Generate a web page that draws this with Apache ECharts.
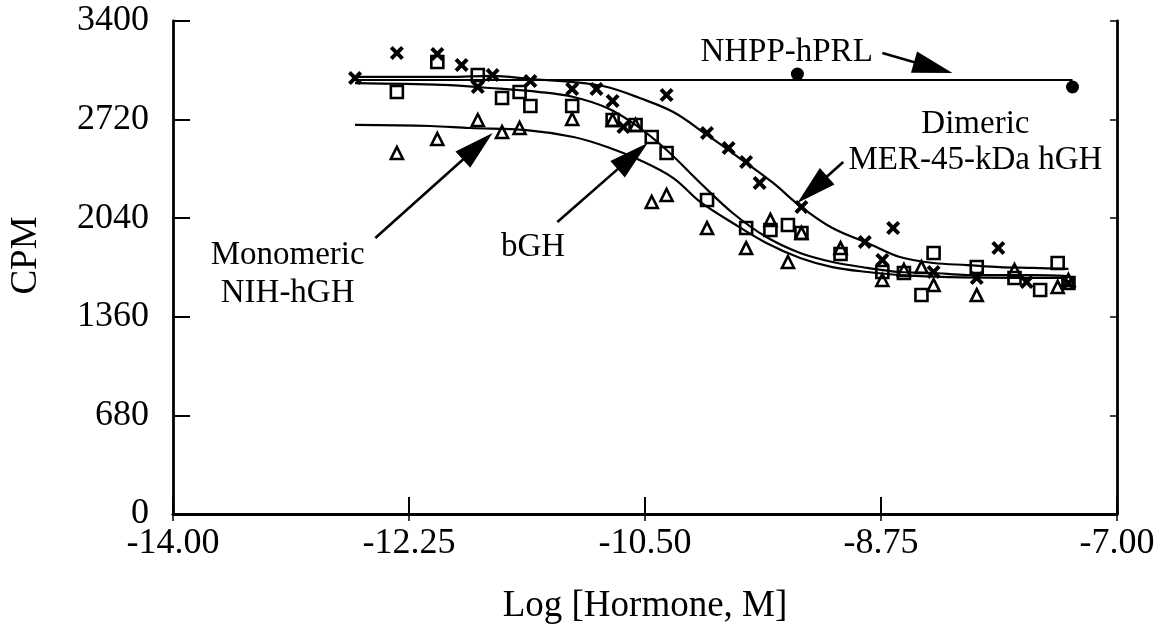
<!DOCTYPE html>
<html>
<head>
<meta charset="utf-8">
<script src="https://cdn.jsdelivr.net/npm/echarts@6.0.0/dist/echarts.min.js"></script>
</head>
<body style="margin:0;background:#fff">
<div id="container" style="width:1175px;height:633px"></div>
<script>
var FONT = '"Liberation Serif", "Times New Roman", serif';

var xTicks = [-14, -12.25, -10.5, -8.75, -7];
var yTicks = [0, 680, 1360, 2040, 2720, 3400];

// Dimeric MER-45-kDa hGH (x marks)
var dimericPts = [[-12.65,3007],[-12.34,3179],[-12.04,3172],[-11.86,3097],[-11.74,2945],[-11.63,3028],
  [-11.35,2986],[-11.04,2931],[-10.86,2931],[-10.74,2848],[-10.66,2669],[-10.34,2890],[-10.04,2628],
  [-9.88,2524],[-9.75,2428],[-9.65,2283],[-9.34,2117],[-8.87,1876],[-8.66,1972],[-8.74,1752],
  [-8.36,1669],[-8.04,1628],[-7.88,1834],[-7.67,1600],[-7.36,1593]];
var dimericCurve = [[-12.65,3014],[-11.95,3014],[-11.63,3021],[-11.35,3000],[-11.03,2979],[-10.78,2945],
  [-10.54,2869],[-10.29,2772],[-10.04,2614],[-9.80,2455],[-9.55,2283],[-9.35,2124],[-9.11,1972],
  [-8.85,1869],[-8.61,1772],[-8.36,1731],[-8.11,1717],[-7.87,1703],[-7.62,1697],[-7.36,1690]];

// bGH (squares)
var bghPts = [[-12.34,2910],[-12.04,3117],[-11.74,3028],[-11.56,2869],[-11.43,2910],[-11.35,2814],
  [-11.04,2814],[-10.74,2717],[-10.57,2683],[-10.45,2600],[-10.34,2490],[-10.04,2166],[-9.75,1972],
  [-9.57,1959],[-9.44,1993],[-9.34,1938],[-9.05,1793],[-8.74,1669],[-8.58,1662],[-8.45,1510],
  [-8.36,1800],[-8.04,1703],[-7.76,1628],[-7.57,1545],[-7.44,1731],[-7.36,1593]];
var bghCurve = [[-12.65,2972],[-12.00,2959],[-11.65,2938],[-11.28,2910],[-11.03,2876],[-10.78,2800],
  [-10.57,2683],[-10.34,2510],[-10.09,2283],[-9.85,2076],[-9.60,1910],[-9.35,1800],[-9.11,1738],
  [-8.85,1697],[-8.61,1669],[-8.36,1662],[-8.11,1648],[-7.62,1648],[-7.36,1641]];

// Monomeric NIH-hGH (triangles)
var monoPts = [[-12.34,2490],[-12.04,2586],[-11.74,2717],[-11.56,2634],[-11.43,2662],[-11.04,2724],
  [-10.74,2717],[-10.57,2683],[-10.45,2152],[-10.34,2200],[-10.04,1972],[-9.75,1834],[-9.57,2028],
  [-9.44,1738],[-9.34,1938],[-9.05,1834],[-8.74,1614],[-8.58,1683],[-8.45,1703],[-8.36,1579],
  [-8.04,1510],[-7.76,1683],[-7.44,1566],[-7.36,1614]];
var monoCurve = [[-12.65,2683],[-12.09,2676],[-11.80,2662],[-11.38,2648],[-11.03,2600],[-10.78,2531],
  [-10.54,2441],[-10.29,2317],[-10.09,2152],[-9.85,2007],[-9.60,1869],[-9.35,1766],[-9.11,1703],
  [-8.85,1669],[-8.61,1648],[-8.24,1634],[-7.37,1628]];

// NHPP-hPRL (filled dots)
var prlPts = [[-9.37,3034],[-7.33,2945]];
var prlLine = [[-12.65,2993],[-7.33,2993]];

// annotation arrows: [fromX, fromY, toX, toY]
var arrows = [[-8.74,3179,-8.22,3041],[-9.03,2428,-9.37,2145],[-12.50,1903,-11.63,2628],[-11.15,2014,-10.48,2559]];
var noteX = [-9.45, -8.05, -8.05, -13.15, -13.15, -11.33];
var noteY = [3186, 2690, 2441, 1786, 1524, 1841];
var noteText = ['NHPP-hPRL', 'Dimeric', 'MER-45-kDa hGH', 'Monomeric', 'NIH-hGH', 'bGH'];

var xMark = 'path://M0,2L2,0L5,3L8,0L10,2L7,5L10,8L8,10L5,7L2,10L0,8L3,5Z';

var dom = document.getElementById('container');
var myChart = echarts.init(dom);

function curve(name, data) {
    return {
        name: name, type: 'line', data: data, smooth: 0.35, showSymbol: false, silent: true,
        lineStyle: {color: '#000', width: 2.2}, z: 2
    };
}
function pts(name, data, symbol, size, filled) {
    return {
        name: name, type: 'scatter', data: data, symbol: symbol, symbolSize: size, silent: true, z: 3,
        itemStyle: filled ? {color: '#000', opacity: 1} :
            {color: 'rgba(255,255,255,0)', borderColor: '#000', borderWidth: 2.6, opacity: 1}
    };
}

var baseAxis = {
    axisLine: {lineStyle: {color: '#000', width: 2.8}},
    splitLine: {show: false}
};

var option = {
    animation: false,
    grid: {left: 173, right: 58, top: 21, bottom: 119},
    xAxis: [
        Object.assign({}, baseAxis, {
            type: 'value', min: xTicks[0], max: xTicks[xTicks.length - 1], interval: 1.75, position: 'bottom',
            axisTick: {inside: true, length: 17, lineStyle: {color: '#000', width: 2}},
            axisLabel: {color: '#000', fontSize: 36, fontFamily: FONT, margin: 12,
                formatter: function (v) { return v.toFixed(2); }},
            name: 'Log [Hormone, M]', nameLocation: 'middle', nameGap: 74,
            nameTextStyle: {color: '#000', fontSize: 37, fontFamily: FONT}
        }),
        Object.assign({}, baseAxis, {
            type: 'value', min: xTicks[0], max: xTicks[xTicks.length - 1], interval: 1.75, position: 'top',
            axisTick: {inside: true, length: 7, lineStyle: {color: '#000', width: 1.5}},
            axisLabel: {show: false}
        })
    ],
    yAxis: [
        Object.assign({}, baseAxis, {
            type: 'value', min: yTicks[0], max: yTicks[yTicks.length - 1], interval: 680, position: 'left',
            axisTick: {inside: true, length: 17, lineStyle: {color: '#000', width: 2}},
            axisLabel: {color: '#000', fontSize: 36, fontFamily: FONT, margin: 24,
                formatter: function (v) { return String(v); }},
            name: 'CPM', nameLocation: 'middle', nameGap: 128,
            nameTextStyle: {color: '#000', fontSize: 37, fontFamily: FONT, padding: [0, 0, 0, 24]}
        }),
        Object.assign({}, baseAxis, {
            type: 'value', min: yTicks[0], max: yTicks[yTicks.length - 1], interval: 680, position: 'right',
            axisTick: {inside: true, length: 7, lineStyle: {color: '#000', width: 1.5}},
            axisLabel: {show: false}
        })
    ],
    series: [
        curve('NHPP-hPRL line', prlLine),
        curve('Dimeric curve', dimericCurve),
        curve('bGH curve', bghCurve),
        curve('Monomeric curve', monoCurve),
        pts('Dimeric MER-45-kDa hGH', dimericPts, xMark, 14, true),
        pts('bGH', bghPts, 'rect', 12, false),
        pts('Monomeric NIH-hGH', monoPts, 'triangle', 12, false),
        pts('NHPP-hPRL', prlPts, 'circle', 13, true),
        {
            type: 'custom', name: 'arrows', data: arrows, silent: true, z: 4,
            encode: {x: [0, 2], y: [1, 3]},
            renderItem: function (params, api) {
                var p0 = api.coord([api.value(0), api.value(1)]);
                var p1 = api.coord([api.value(2), api.value(3)]);
                var dx = p1[0] - p0[0], dy = p1[1] - p0[1];
                var len = Math.sqrt(dx * dx + dy * dy);
                var ux = dx / len, uy = dy / len;
                var hl = 40, hw = 11;
                var bx = p1[0] - ux * hl, by = p1[1] - uy * hl;
                return {
                    type: 'group',
                    children: [
                        {type: 'line', shape: {x1: p0[0], y1: p0[1], x2: bx + ux * 4, y2: by + uy * 4},
                            style: {stroke: '#000', lineWidth: 2.6}},
                        {type: 'polygon', shape: {points: [[p1[0], p1[1]], [bx - uy * hw, by + ux * hw], [bx + uy * hw, by - ux * hw]]},
                            style: {fill: '#000'}}
                    ]
                };
            }
        },
        {
            type: 'custom', name: 'notes', silent: true, z: 5,
            data: noteX.map(function (x, i) { return [x, noteY[i]]; }),
            renderItem: function (params, api) {
                var p = api.coord([api.value(0), api.value(1)]);
                return {
                    type: 'text', x: p[0], y: p[1],
                    style: {text: noteText[params.dataIndex], fill: '#000', font: '33px ' + FONT,
                        align: 'center', verticalAlign: 'middle'}
                };
            }
        }
    ]
};

if (option && typeof option === 'object') {
    myChart.setOption(option, true);
}
</script>
</body>
</html>
